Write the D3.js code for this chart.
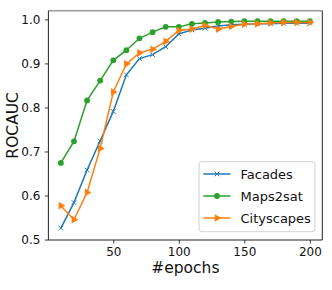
<!DOCTYPE html>
<html>
<head>
<meta charset="utf-8">
<script src="https://cdn.jsdelivr.net/npm/d3@7"></script>
<style>
  body { margin: 0; background: #fff; }
  #char1 { width: 332px; height: 290px; }
  text { font-family: "DejaVu Sans", sans-serif; }
</style>
</head>
<body>
<div id="char1"></div>
<script>
// epochs on x
var epochs=[10,20,30,40,50,60,70,80,90,100,110,120,130,140,150,160,170,180,190,200];
var facades=[0.526,0.584,0.658,0.724,0.791,0.874,0.911,0.920,0.938,0.967,0.976,0.980,0.985,0.988,0.989,0.990,0.990,0.991,0.991,0.991];
var maps2sat=[0.674,0.723,0.816,0.861,0.907,0.930,0.957,0.971,0.983,0.983,0.990,0.992,0.994,0.995,0.996,0.996,0.996,0.996,0.996,0.996];
var cityscapes=[0.577,0.545,0.607,0.707,0.835,0.899,0.924,0.932,0.950,0.975,0.978,0.986,0.978,0.984,0.989,0.990,0.992,0.993,0.993,0.993];
var seriesNames=['Facades','Maps2sat','Cityscapes'];
var xticks=[50,100,150,200];
var yticks=[0.5,0.6,0.7,0.8,0.9,1.0];

var series=[
  {name:seriesNames[0],values:facades,color:"#1f77b4",marker:"x"},
  {name:seriesNames[1],values:maps2sat,color:"#2ca02c",marker:"o"},
  {name:seriesNames[2],values:cityscapes,color:"#ff7f0e",marker:">"}
];

var svgwidth=332, svgheight=290;
// plot box (named to avoid clashing with window.top)
var box={"left":48.4,"right":322.3,"top":10.7,"bottom":240};

var xscale=d3.scaleLinear().domain([0.5,209.5]).range([box.left,box.right]);
var yscale=d3.scaleLinear().domain([0.499,1.0197]).range([box.bottom,box.top]);

var svg=d3.select("#char1").append("svg")
          .attr("width",svgwidth)
          .attr("height",svgheight);

// axes
var xAxis=d3.axisBottom(xscale).tickValues(xticks).tickSize(3.5).tickPadding(3.5).tickFormat(d3.format("d"));
var yAxis=d3.axisLeft(yscale).tickValues(yticks).tickSize(3.5).tickPadding(4.5).tickFormat(d3.format(".1f"));

var gx=svg.append("g").attr("transform","translate(0,"+box.bottom+")").call(xAxis);
var gy=svg.append("g").attr("transform","translate("+box.left+",0)").call(yAxis);
[gx,gy].forEach(function(g){
  g.select(".domain").remove();
  g.selectAll("line").attr("stroke","#222").attr("stroke-width",0.9);
  g.selectAll("text").style("font-size","12px").attr("fill","#111");
});

// spines
svg.append("line").attr("x1",box.left).attr("x2",box.right).attr("y1",box.top).attr("y2",box.top)
   .attr("stroke","#9a9a9a").attr("stroke-width",1.6);
svg.append("line").attr("x1",box.left).attr("x2",box.left).attr("y1",box.top).attr("y2",box.bottom)
   .attr("stroke","#222").attr("stroke-width",1);
svg.append("line").attr("x1",box.right).attr("x2",box.right).attr("y1",box.top).attr("y2",box.bottom)
   .attr("stroke","#222").attr("stroke-width",1);
svg.append("line").attr("x1",box.left).attr("x2",box.right).attr("y1",box.bottom).attr("y2",box.bottom)
   .attr("stroke","#222").attr("stroke-width",1);

// axis labels
svg.append("text").text("#epochs")
   .attr("x",(box.left+box.right)/2).attr("y",273)
   .attr("text-anchor","middle").style("font-size","15.5px").attr("fill","#111");
svg.append("text").text("ROCAUC")
   .attr("transform","translate(17.5,"+((box.top+box.bottom)/2)+") rotate(-90)")
   .attr("text-anchor","middle").style("font-size","15.5px").attr("fill","#111");

function drawMarker(g,type,color){
  if(type==="o"){
    g.append("circle").attr("r",2.9).attr("fill",color);
  } else if(type==="x"){
    g.append("path").attr("d",d3.symbol().type(d3.symbolX).size(16)())
     .attr("stroke",color).attr("stroke-width",1).attr("fill","none");
  } else {
    g.append("path").attr("d",d3.symbol().type(d3.symbolTriangle).size(26)())
     .attr("transform","rotate(90)").attr("fill",color);
  }
}

var line=d3.line()
  .x(function(d,i){return xscale(epochs[i]);})
  .y(function(d){return yscale(d);});

series.forEach(function(s){
  svg.append("path").datum(s.values)
     .attr("d",line)
     .attr("fill","none")
     .attr("stroke",s.color)
     .attr("stroke-width",1.5);
  svg.selectAll(null).data(s.values).enter()
     .append("g")
     .attr("transform",function(d,i){return "translate("+xscale(epochs[i])+","+yscale(d)+")";})
     .each(function(){drawMarker(d3.select(this),s.marker,s.color);});
});

// legend
var lg=svg.append("g");
lg.append("rect").attr("x",199).attr("y",161.7).attr("width",116).attr("height",70)
  .attr("rx",3).attr("fill","#fff").attr("fill-opacity",0.8)
  .attr("stroke","#d0d0d0").attr("stroke-width",1);
series.forEach(function(s,i){
  var y=174+i*22;
  lg.append("line").attr("x1",203.3).attr("x2",230.5).attr("y1",y).attr("y2",y)
    .attr("stroke",s.color).attr("stroke-width",1.5);
  var m=lg.append("g").attr("transform","translate(217,"+y+")");
  drawMarker(m,s.marker,s.color);
  lg.append("text").text(s.name).attr("x",240.5).attr("y",y+4.6)
    .style("font-size","13px").attr("fill","#111");
});
</script>
</body>
</html>
